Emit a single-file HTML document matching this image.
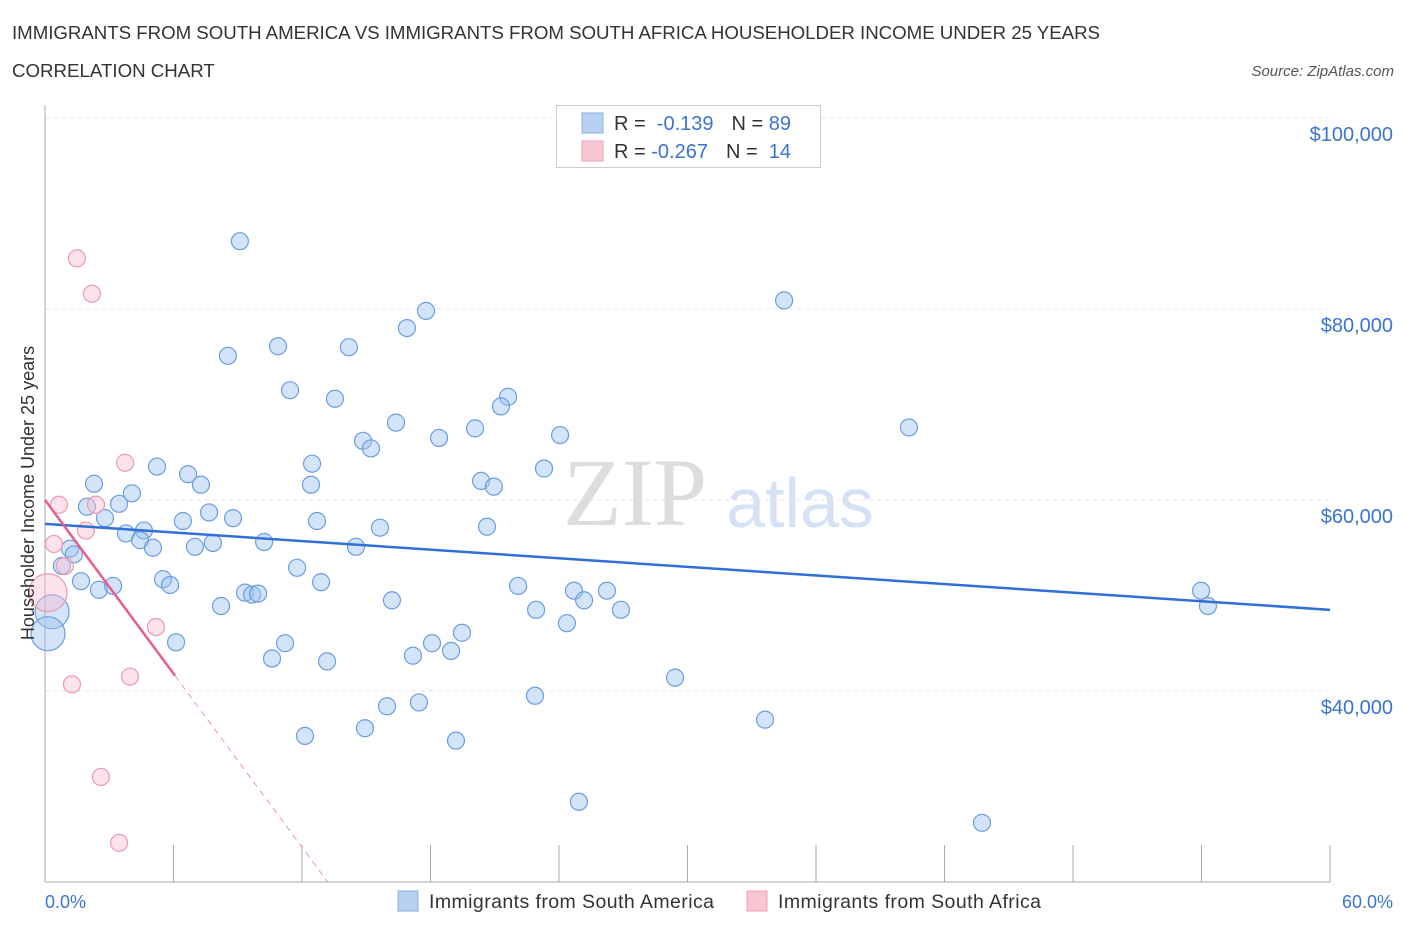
<!DOCTYPE html>
<html><head><meta charset="utf-8"><style>
body{margin:0;background:#fff;font-family:"Liberation Sans",sans-serif;}
svg{display:block}
</style></head><body>
<svg id="c" width="1406" height="930" xmlns="http://www.w3.org/2000/svg">
<text x="12" y="39" font-size="18.7" fill="#333" textLength="1088">IMMIGRANTS FROM SOUTH AMERICA VS IMMIGRANTS FROM SOUTH AFRICA HOUSEHOLDER INCOME UNDER 25 YEARS</text>
<text x="12" y="77" font-size="18.7" fill="#333">CORRELATION CHART</text>
<text x="1394" y="76" font-size="15" fill="#555" font-style="italic" text-anchor="end">Source: ZipAtlas.com</text>
<text x="635" y="525" font-size="96" fill="#ddd" font-family="Liberation Serif,serif" text-anchor="middle">ZIP</text>
<text x="800" y="527" font-size="70" fill="#d4e2f4" text-anchor="middle">atlas</text>
<g id="grid"></g>
<g id="pts"></g>
<g id="lines"></g>
<text transform="translate(34,493) rotate(-90)" font-size="18" fill="#333" text-anchor="middle">Householder Income Under 25 years</text>
<text x="45" y="908" font-size="18" fill="#3a74d0">0.0%</text>
<text x="1393" y="908" font-size="18" fill="#3a74d0" text-anchor="end">60.0%</text>
<g>
<rect x="556.5" y="105.5" width="264" height="62" fill="#fff" stroke="#ccc"/>
<rect x="582" y="113" width="21" height="20" fill="#b8d1f3" stroke="#8ab0e6"/>
<rect x="582" y="141" width="21" height="20" fill="#f8c5d3" stroke="#eea0b6"/>
<text x="614" y="130" font-size="20" fill="#333">R = <tspan fill="#3a74d0">&#160;-0.139</tspan><tspan dx="18">N = </tspan><tspan fill="#3a74d0">89</tspan></text>
<text x="614" y="158" font-size="20" fill="#333">R = <tspan fill="#3a74d0">-0.267</tspan><tspan dx="18">N = </tspan><tspan fill="#3a74d0">&#160;14</tspan></text>
</g>
<g>
<rect x="398" y="891" width="20" height="20" fill="#b8d1f3" stroke="#8ab0e6"/>
<text x="429" y="908" font-size="19.5" fill="#333" textLength="285">Immigrants from South America</text>
<rect x="747" y="891" width="20" height="20" fill="#f8c5d3" stroke="#eea0b6"/>
<text x="778" y="908" font-size="19.5" fill="#333" textLength="263">Immigrants from South Africa</text>
</g>
</svg>
<script>
const yTicks=[40000,60000,80000,100000];
const yTickLabels=["$40,000","$60,000","$80,000","$100,000"];
const xTicks=[0,6,12,18,24,30,36,42,48,54,60];
const blueX=[9.10,34.51,17.79,16.90,10.88,14.19,8.54,11.44,13.54,21.62,21.29,16.39,40.34,14.85,20.08,24.05,18.40,15.22,12.47,5.23,23.30,6.68,20.36,7.28,12.42,20.96,2.29,4.06,3.46,1.96,7.66,2.80,6.44,8.78,12.70,20.64,15.64,3.78,4.62,4.44,7.84,10.23,7.00,5.04,14.52,1.17,1.35,0.79,11.77,1.68,5.51,12.89,5.84,22.09,2.52,3.18,9.34,9.67,9.95,24.70,26.24,53.98,16.20,25.17,22.93,26.89,54.30,8.22,24.37,19.47,6.12,11.21,18.07,18.96,17.18,10.60,13.17,29.42,22.88,15.97,17.46,33.62,12.14,14.94,19.19,24.93,43.75,0.33,0.14];
const blueY=[87100,80900,79800,78000,76100,76000,75100,71500,70600,70800,69800,68100,67600,66200,67500,66800,66500,65400,63800,63500,63300,62700,62000,61600,61600,61400,61700,60700,59600,59300,58700,58100,57800,58100,57800,57200,57100,56500,56800,55800,55500,55600,55100,55000,55100,54900,54300,53100,52900,51500,51700,51400,51100,51000,50600,51000,50300,50100,50200,50500,50500,50500,49500,49500,48500,48500,48900,48900,47100,46100,45100,45000,45000,44200,43700,43400,43100,41400,39500,38400,38800,37000,35300,36100,34800,28400,26200,48300,46000];
const pinkX=[1.49,2.19,3.74,0.65,2.38,1.91,0.42,0.93,5.18,0.14,1.26,3.97,2.61,3.46];
const pinkY=[85300,81600,63900,59500,59500,56800,55400,53100,46700,50300,40700,41500,31000,24100];
const blueTrend=[57500,48500];
const pinkTrend=[60000,-3030];
const X=p=>45+p/60*1285;
const Y=v=>691-(v-40000)*191/20000;
const NS="http://www.w3.org/2000/svg";
function mk(t,a,parent){const e=document.createElementNS(NS,t);for(const k in a)e.setAttribute(k,a[k]);document.getElementById(parent).appendChild(e);return e;}
yTicks.forEach((v,i)=>{
 const g=mk('line',{x1:45,x2:1330,y1:Y(v),y2:Y(v),stroke:'#e4e4e4','stroke-dasharray':'4,4'},'grid');
 
 
 const t=mk('text',{x:1393,y:Y(v)+23,'font-size':20,fill:'#3a74d0','text-anchor':'end'},'grid');
 t.textContent=yTickLabels[i];
 
 
});
const ax=mk('line',{x1:45,x2:45,y1:105,y2:882,stroke:'#aaa'},'grid');


const bx=mk('line',{x1:45,x2:1330,y1:882,y2:882,stroke:'#aaa'},'grid');


xTicks.forEach(p=>{
 const l=mk('line',{x1:X(p),x2:X(p),y1:845,y2:882,stroke:'#aaa'},'grid');
 
 
});
blueX.forEach((p,i)=>{
 const r=i>=blueX.length-2?17:8.5;
 const c=mk('circle',{cx:X(p),cy:Y(blueY[i]),r:r,fill:'rgba(160,195,240,0.45)',stroke:'#6a9de0','stroke-width':1.2},'pts');
 
 
});
pinkX.forEach((p,i)=>{
 const r=i==9?19:8.5;
 const c=mk('circle',{cx:X(p),cy:Y(pinkY[i]),r:r,fill:'rgba(248,190,208,0.45)',stroke:'#ec9ab3','stroke-width':1.2},'pts');
 
 
});
const bl=mk('line',{x1:X(0),y1:Y(blueTrend[0]),x2:X(60),y2:Y(blueTrend[1]),stroke:'#2f6fd6','stroke-width':2.5},'lines');


const pv=p=>pinkTrend[0]+pinkTrend[1]*p;
const pl=mk('line',{x1:X(0),y1:Y(pv(0)),x2:X(6.07),y2:Y(pv(6.07)),stroke:'#e4608a','stroke-width':2.5},'lines');


const pEnd=(20000-pinkTrend[0])/pinkTrend[1];
const pd=mk('line',{x1:X(6.07),y1:Y(pv(6.07)),x2:X(pEnd),y2:Y(20000),stroke:'#e896b0','stroke-width':1,'stroke-dasharray':'6,5'},'lines');


</script>
</body></html>
